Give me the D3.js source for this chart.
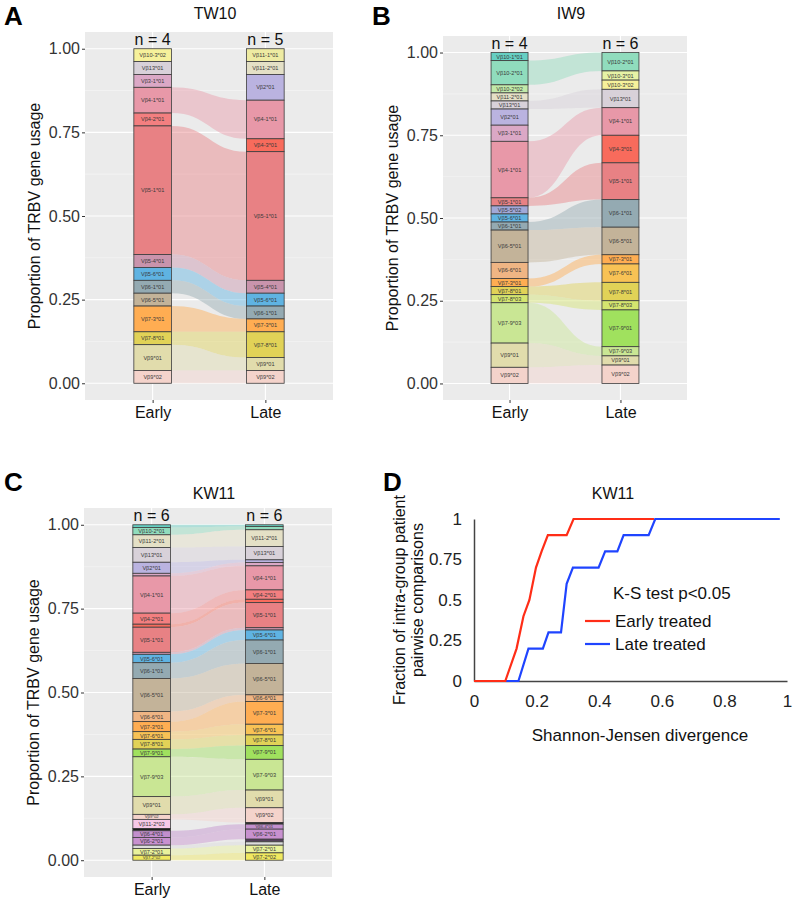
<!DOCTYPE html>
<html>
<head>
<meta charset="utf-8">
<script src="https://cdn.jsdelivr.net/npm/d3@7"></script>
<style>
body{margin:0;background:#fff;}
text{font-family:"Liberation Sans",Arial,sans-serif;}
</style>
</head>
<body>
<svg id="fig" width="795" height="899"></svg>
<script>
// ---- data ----
var axisNames = ["Early", "Late"];
var yTicks = [0, 0.25, 0.5, 0.75, 1];

// TW10
var genesA = ["Vβ10-3*02","Vβ11-1*01","Vβ11-2*01","Vβ13*01","Vβ2*01","Vβ3-1*01","Vβ4-1*01","Vβ4-2*01","Vβ4-3*01",
	"Vβ5-1*01","Vβ5-4*01","Vβ5-6*01","Vβ6-1*01","Vβ6-5*01","Vβ7-3*01","Vβ7-8*01","Vβ9*01","Vβ9*02"];
var earlyA = [1,0,0,1,0,1,2,1,0,10,1,1,1,1,2,1,2,1];
var lateA  = [0,1,1,0,2,0,3,0,1,10,1,1,1,0,1,2,1,1];
var nA = [4, 5];

// IW9
var genesB = ["Vβ10-1*01","Vβ10-2*01","Vβ10-2*02","Vβ10-3*01","Vβ10-3*02","Vβ11-2*01","Vβ13*01","Vβ2*01","Vβ3-1*01",
	"Vβ4-1*01","Vβ4-3*01","Vβ5-1*01","Vβ5-5*02","Vβ5-6*01","Vβ6-1*01","Vβ6-5*01","Vβ6-6*01","Vβ7-3*01","Vβ7-6*01",
	"Vβ7-8*01","Vβ7-8*03","Vβ7-9*01","Vβ7-9*03","Vβ9*01","Vβ9*02"];
var earlyB = [1,3,1,0,0,1,1,2,2,7,0,1,1,1,1,4,2,1,0,1,1,0,5,3,2];
var lateB  = [0,2,0,1,1,0,2,0,0,3,3,4,0,0,3,3,0,1,2,2,1,4,1,1,2];
var nB = [4, 6];

// KW11 (per mille)
var genesC = ["Vβ10-1*01","Vβ10-2*01","Vβ11-2*01","Vβ13*01","Vβ2*01","Vβ3-1*01","Vβ4-1*01","Vβ4-2*01","Vβ4-3*01",
	"Vβ5-1*01","Vβ5-4*01","Vβ5-6*01","Vβ6-1*01","Vβ6-5*01","Vβ6-6*01","Vβ7-3*01","Vβ7-6*01","Vβ7-8*01","Vβ7-9*01",
	"Vβ7-9*03","Vβ9*01","Vβ9*02","Vβ11-2*03","Vβ12-4*01","Vβ12-3*01","Vβ6-4*01","Vβ6-2*01","Vβ6-9*01","Vβ20-1*01",
	"Vβ7-2*01","Vβ7-2*02"];
var earlyC = [8,22,38,44,33,8,111,33,9,75,6,25,47,99,30,30,23,29,23,119,53,15,27,7,0,20,23,0,10,20,15];
var lateC  = [5,10,50,40,8,10,72,28,10,75,7,30,70,94,20,68,32,32,41,92,53,44,0,0,5,15,30,8,10,23,22];
var nC = [6, 6];

// KW11 divergence curves
var earlyX = [0, 0.10, 0.136, 0.158, 0.177, 0.198, 0.216, 0.236, 0.296, 0.318, 0.575];
var earlyY = [0, 0, 0.2, 0.4, 0.5, 0.7, 0.8, 0.9, 0.9, 1, 1];
var lateX = [0, 0.142, 0.174, 0.22, 0.238, 0.278, 0.296, 0.316, 0.398, 0.419, 0.458, 0.478, 0.558, 0.579, 0.977];
var lateY = [0, 0, 0.2, 0.2, 0.3, 0.3, 0.6, 0.7, 0.7, 0.8, 0.8, 0.9, 0.9, 1, 1];
var dxTicks = [0, 0.2, 0.4, 0.6, 0.8, 1];
var dyTicks = [0, 0.25, 0.5, 0.75, 1];

var geneColor = {
	"Vβ10-1*01":"#66cfc3","Vβ10-2*01":"#90dcbd","Vβ10-2*02":"#c2eaa9","Vβ10-3*01":"#e6f3a6","Vβ10-3*02":"#f6f19b",
	"Vβ11-1*01":"#eeeba2","Vβ11-2*01":"#e4e0c6","Vβ11-2*03":"#f6c8e8","Vβ13*01":"#d8d1d9","Vβ2*01":"#bab3e0",
	"Vβ3-1*01":"#dba8c6","Vβ4-1*01":"#e898a8","Vβ4-2*01":"#f37f80","Vβ4-3*01":"#f86b5c","Vβ5-1*01":"#e88184",
	"Vβ5-4*01":"#c994ac","Vβ5-5*02":"#a1a8d8","Vβ5-6*01":"#5fb3e2","Vβ6-1*01":"#94aab2","Vβ6-2*01":"#c891cf",
	"Vβ6-4*01":"#c28fcd","Vβ6-5*01":"#c3b399","Vβ6-6*01":"#efb584","Vβ7-2*01":"#e9f29b","Vβ7-2*02":"#f0e960",
	"Vβ7-3*01":"#ffad52","Vβ7-6*01":"#f8c255","Vβ7-8*01":"#e1d257","Vβ7-8*03":"#d4e56f","Vβ7-9*01":"#a0e15e",
	"Vβ7-9*03":"#c9e694","Vβ9*01":"#e1dcac","Vβ9*02":"#f4d3cb","Vβ12-4*01":"#1e1e1e","Vβ12-3*01":"#2a2a2a",
	"Vβ6-9*01":"#54405c","Vβ20-1*01":"#dcdcdc"
};

var svg = d3.select("#fig");

function stack(vals){
	var total = d3.sum(vals), cum = 1;
	return vals.map(function(v){
		var h = v / total;
		var s = {y1: cum, y0: cum - h, v: v};
		cum -= h;
		return s;
	});
}

function drawAlluvial(p){
	var g = svg.append("g");
	var x = d3.scaleLinear().domain([0.4, 2.6]).range([p.left, p.left + p.width]);
	var y = d3.scaleLinear().domain([-0.05, 1.05]).range([p.top + p.height, p.top]);
	var bw = (x(2) - x(1)) / 3;

	g.append("rect")
		.attr("x", p.left).attr("y", p.top)
		.attr("width", p.width).attr("height", p.height)
		.attr("fill", "#ebebeb");

	// grid
	[0.125, 0.375, 0.625, 0.875].forEach(function(t){
		g.append("line").attr("x1", p.left).attr("x2", p.left + p.width)
			.attr("y1", y(t)).attr("y2", y(t))
			.attr("stroke", "#f7f7f7").attr("stroke-width", 0.6);
	});
	yTicks.forEach(function(t){
		g.append("line").attr("x1", p.left).attr("x2", p.left + p.width)
			.attr("y1", y(t)).attr("y2", y(t))
			.attr("stroke", "#fff").attr("stroke-width", 1.1);
	});
	[1, 2].forEach(function(t){
		g.append("line").attr("x1", x(t)).attr("x2", x(t))
			.attr("y1", p.top).attr("y2", p.top + p.height)
			.attr("stroke", "#fff").attr("stroke-width", 1.1);
	});

	var sE = stack(p.early), sL = stack(p.late);
	var x0 = x(1) + bw / 2, x1 = x(2) - bw / 2, xm = (x0 + x1) / 2;

	// flows
	p.genes.forEach(function(gene, i){
		if(!p.early[i] || !p.late[i]) return;
		var e = sE[i], l = sL[i];
		var d = "M" + x0 + "," + y(e.y1) +
			"C" + xm + "," + y(e.y1) + " " + xm + "," + y(l.y1) + " " + x1 + "," + y(l.y1) +
			"L" + x1 + "," + y(l.y0) +
			"C" + xm + "," + y(l.y0) + " " + xm + "," + y(e.y0) + " " + x0 + "," + y(e.y0) + "Z";
		g.append("path").attr("d", d)
			.attr("fill", geneColor[gene]).attr("fill-opacity", 0.45);
	});

	// strata
	[sE, sL].forEach(function(st, k){
		var cx = x(k + 1);
		st.forEach(function(s, i){
			if(!s.v) return;
			var h = y(s.y0) - y(s.y1);
			g.append("rect")
				.attr("x", cx - bw / 2).attr("y", y(s.y1))
				.attr("width", bw).attr("height", h)
				.attr("fill", geneColor[p.genes[i]])
				.attr("stroke", "#3c3c3c").attr("stroke-width", 0.8);
			if(h >= 4.5){
				g.append("text")
					.attr("x", cx).attr("y", (y(s.y0) + y(s.y1)) / 2)
					.attr("text-anchor", "middle").attr("dominant-baseline", "central")
					.attr("font-size", Math.min(5.6, h - 0.8))
					.attr("fill", "#3a3a3a")
					.text(p.genes[i]);
			}
		});
	});

	// n labels
	[0, 1].forEach(function(k){
		g.append("text").attr("x", x(k + 1)).attr("y", y(1) - 4)
			.attr("text-anchor", "middle").attr("font-size", 16).attr("fill", "#111")
			.text("n = " + p.n[k]);
	});

	// axes
	var ya = g.append("g").attr("transform", "translate(" + p.left + ",0)")
		.call(d3.axisLeft(y).tickValues(yTicks).tickFormat(d3.format(".2f")).tickSize(3).tickPadding(2));
	ya.select(".domain").remove();
	ya.selectAll("line").attr("stroke", "#333");
	ya.selectAll("text").attr("font-size", 16).attr("fill", "#333").attr("font-family", "Liberation Sans, Arial, sans-serif");

	var xa = g.append("g").attr("transform", "translate(0," + (p.top + p.height) + ")")
		.call(d3.axisBottom(x).tickValues([1, 2]).tickFormat(function(d){ return axisNames[d - 1]; }).tickSize(3).tickPadding(4));
	xa.select(".domain").remove();
	xa.selectAll("line").attr("stroke", "#333");
	xa.selectAll("text").attr("font-size", 16).attr("fill", "#111").attr("font-family", "Liberation Sans, Arial, sans-serif");

	g.append("text")
		.attr("transform", "translate(" + (p.left - 45) + "," + ((y(0) + y(1)) / 2) + ") rotate(-90)")
		.attr("text-anchor", "middle").attr("font-size", 16).attr("fill", "#111")
		.text("Proportion of TRBV gene usage");

	g.append("text").attr("x", p.left + p.width / 2 + 6).attr("y", p.titleY)
		.attr("text-anchor", "middle").attr("font-size", 16).attr("fill", "#111")
		.text(p.title);

	g.append("text").attr("x", p.letterX).attr("y", p.letterY)
		.attr("font-size", 26).attr("font-weight", "bold").attr("fill", "#000")
		.text(p.letter);
}

drawAlluvial({left: 85, top: 32, width: 248, height: 368, genes: genesA, early: earlyA, late: lateA, n: nA,
	title: "TW10", titleY: 19, letter: "A", letterX: 4, letterY: 25});
drawAlluvial({left: 443, top: 36, width: 244, height: 364, genes: genesB, early: earlyB, late: lateB, n: nB,
	title: "IW9", titleY: 19, letter: "B", letterX: 372, letterY: 25});
drawAlluvial({left: 84, top: 508, width: 248, height: 369, genes: genesC, early: earlyC, late: lateC, n: nC,
	title: "KW11", titleY: 499, letter: "C", letterX: 4, letterY: 491});

// ---- panel D ----
(function(){
	var g = svg.append("g");
	var x = d3.scaleLinear().domain([0, 1]).range([474, 787]);
	var y = d3.scaleLinear().domain([0, 1]).range([681, 519]);

	var xa = g.append("g").attr("transform", "translate(0,681)")
		.call(d3.axisBottom(x).tickValues(dxTicks).tickFormat(String).tickSize(0).tickPadding(14));
	var ya = g.append("g").attr("transform", "translate(474,0)")
		.call(d3.axisLeft(y).tickValues(dyTicks).tickFormat(String).tickSize(0).tickPadding(12));
	[xa, ya].forEach(function(a){
		a.select(".domain").attr("stroke", "#444").attr("stroke-width", 1.5);
		a.selectAll("text").attr("font-size", 17).attr("fill", "#222").attr("font-family", "Liberation Sans, Arial, sans-serif");
	});

	var line = d3.line()
		.x(function(d){ return x(d[0]); })
		.y(function(d){ return y(d[1]); });

	g.append("path").datum(d3.zip(lateX, lateY)).attr("d", line)
		.attr("fill", "none").attr("stroke", "#1f44ff").attr("stroke-width", 2.2);
	g.append("path").datum(d3.zip(earlyX, earlyY)).attr("d", line)
		.attr("fill", "none").attr("stroke", "#ff2d17").attr("stroke-width", 2.2);

	g.append("text").attr("x", 613).attr("y", 499).attr("text-anchor", "middle")
		.attr("font-size", 16).attr("fill", "#111").text("KW11");
	g.append("text").attr("x", 640).attr("y", 741).attr("text-anchor", "middle")
		.attr("font-size", 17).attr("fill", "#111").text("Shannon-Jensen divergence");
	g.append("text").attr("transform", "translate(405,600) rotate(-90)").attr("text-anchor", "middle")
		.attr("font-size", 16).attr("fill", "#111").text("Fraction of intra-group patient");
	g.append("text").attr("transform", "translate(423,600) rotate(-90)").attr("text-anchor", "middle")
		.attr("font-size", 16).attr("fill", "#111").text("pairwise comparisons");

	g.append("text").attr("x", 613).attr("y", 599).attr("font-size", 17).attr("fill", "#111").text("K-S test p<0.05");
	var leg = [["Early treated", "#ff2d17", 621], ["Late treated", "#1f44ff", 644]];
	leg.forEach(function(l){
		g.append("line").attr("x1", 585).attr("x2", 610).attr("y1", l[2]).attr("y2", l[2])
			.attr("stroke", l[1]).attr("stroke-width", 2.2);
		g.append("text").attr("x", 615).attr("y", l[2] + 6).attr("font-size", 17).attr("fill", "#111").text(l[0]);
	});

	g.append("text").attr("x", 383).attr("y", 491)
		.attr("font-size", 26).attr("font-weight", "bold").attr("fill", "#000").text("D");
})();
</script>
</body>
</html>
